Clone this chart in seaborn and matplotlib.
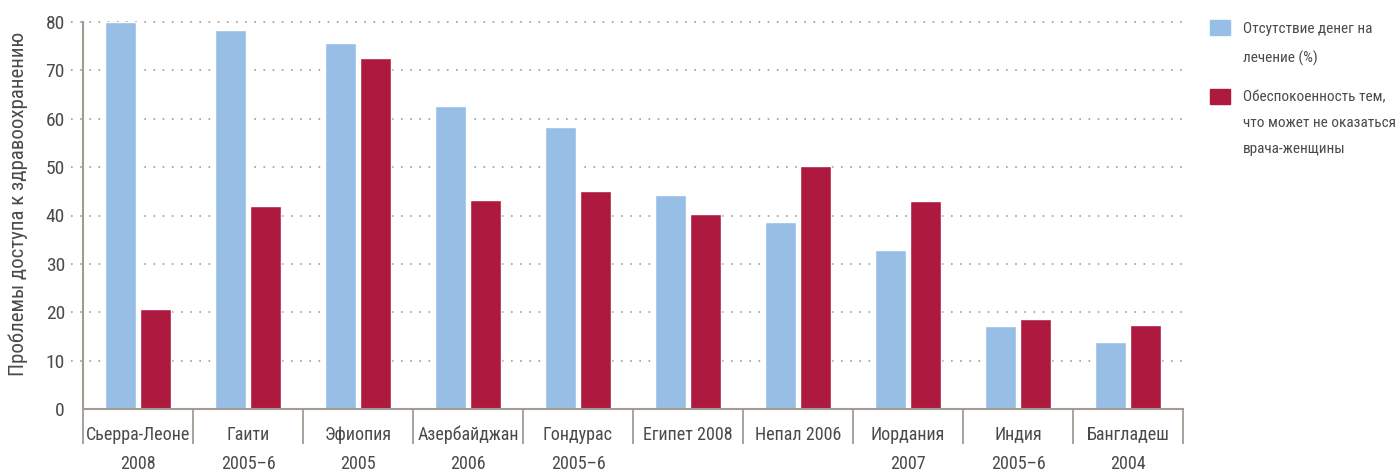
import matplotlib
matplotlib.use("Agg")
import matplotlib.pyplot as plt
from matplotlib import font_manager as fm
from matplotlib.patches import Rectangle
import numpy as np
import pandas as pd
import seaborn as sns

countries = ["Сьерра-Леоне\n2008", "Гаити\n2005–6", "Эфиопия\n2005", "Азербайджан\n2006",
             "Гондурас\n2005–6", "Египет 2008", "Непал 2006", "Иордания\n2007",
             "Индия\n2005–6", "Бангладеш\n2004"]
no_money = [80.0, 78.3, 75.6, 62.6, 58.3, 44.2, 38.6, 32.9, 17.1, 13.8]
no_female_doctor = [20.7, 41.9, 72.5, 43.2, 45.0, 40.3, 50.2, 43.0, 18.6, 17.4]
series_names = ["Отсутствие денег на\nлечение (%)",
                "Обеспокоенность тем,\nчто может не оказаться\nврача-женщины"]
y_ticks = [0, 10, 20, 30, 40, 50, 60, 70, 80]

BLUE = "#97bfe5"
RED = "#ae1a3f"
AXIS = "#a39b92"
TEXT = "#4a4a4a"

sns.set_theme(style="white")


def pick_narrow_font():
    """Return (family, stretch) of an installed narrow sans font."""
    narrow = ("condensed", "semi-condensed", "extra-condensed", "ultra-condensed")
    prefs = ["Roboto Condensed", "Liberation Sans Narrow", "Open Sans Condensed",
             "Noto Sans", "Open Sans", "Roboto", "DejaVu Sans", "Liberation Sans"]
    entries = fm.fontManager.ttflist
    for fam in prefs:
        for e in entries:
            if e.name != fam or e.style != "normal":
                continue
            if fam.endswith(("Condensed", "Narrow")) or e.stretch in narrow:
                return fam, e.stretch
    return "DejaVu Sans", "normal"


family, stretch = pick_narrow_font()
plt.rcParams["font.family"] = [family, "DejaVu Sans"]
plt.rcParams["font.stretch"] = stretch

df = pd.DataFrame({
    "country": countries * 2,
    "value": no_money + no_female_doctor,
    "series": [series_names[0]] * len(countries) + [series_names[1]] * len(countries),
})

fig = plt.figure(figsize=(13.95, 4.72), dpi=100)
ax = fig.add_axes([83 / 1395, 1 - 409 / 472, 1100 / 1395, 387 / 472])

sns.barplot(data=df, x="country", y="value", hue="series",
            palette=[BLUE, RED], width=0.636, gap=0.113,
            saturation=1, legend=False, ax=ax)

ax.set_ylim(0, 80)
ax.set_xlim(-0.5, len(countries) - 0.5)
ax.set_yticks(y_ticks)
ax.set_yticklabels([str(t) for t in y_ticks], fontsize=14, color=TEXT)

# dotted gridlines that reach a little past the y axis
ax.hlines(y_ticks[1:], -0.011, 1, transform=ax.get_yaxis_transform(),
          colors=AXIS, linestyles=(0, (1, 4.5)), linewidth=1.2, clip_on=False, zorder=0)

# category separators below the x axis
ax.set_xticks(np.arange(len(countries)))
ax.set_xticklabels(countries, fontsize=13, color=TEXT, linespacing=1.78)
ax.set_xticks(np.arange(len(countries) + 1) - 0.5, minor=True)
ax.tick_params(axis="x", which="major", bottom=True, length=0, pad=12)
ax.tick_params(axis="x", which="minor", bottom=True, length=25, width=1.3,
               color=AXIS, direction="out")
ax.tick_params(axis="y", which="major", length=0, pad=13)

for side in ["top", "right"]:
    ax.spines[side].set_visible(False)
for side in ["left", "bottom"]:
    ax.spines[side].set_color(AXIS)
    ax.spines[side].set_linewidth(1.5)

ax.set_xlabel("")
ax.set_ylabel("Проблемы доступа к здравоохранению", fontsize=15, color=TEXT, va="center")
ax.yaxis.set_label_coords(-0.059, 0.53)

# legend drawn as swatches with wrapped labels
legend_rows = [(20, BLUE, series_names[0], 2.2, 2), (89, RED, series_names[1], 2.1, 1)]
for top_px, color, label, ls, shift in legend_rows:
    fig.patches.append(Rectangle((1210 / 1395, 1 - (top_px + 15) / 472), 20 / 1395, 15 / 472,
                                 transform=fig.transFigure, color=color))
    fig.text(1243 / 1395, 1 - (top_px + shift) / 472, label, fontsize=11, color=TEXT,
             ha="left", va="top", linespacing=ls)

fig.savefig("out.png", dpi=100)
